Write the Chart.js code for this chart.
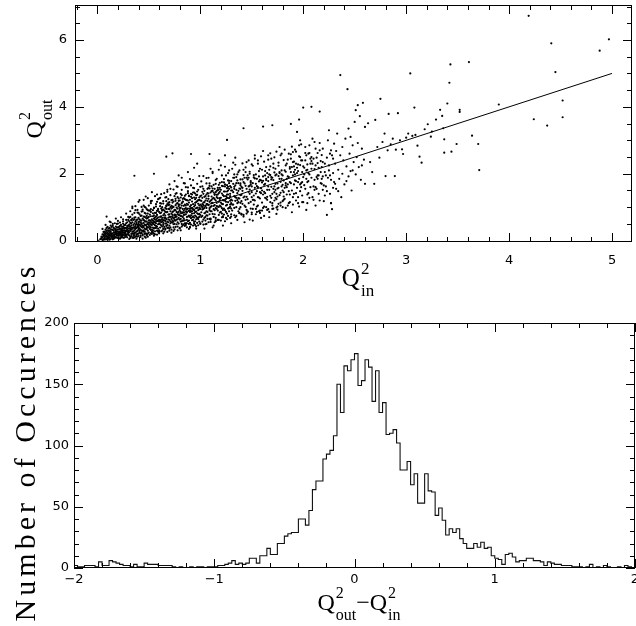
<!DOCTYPE html>
<html>
<head>
<meta charset="utf-8">
<script src="https://cdn.jsdelivr.net/npm/chart.js@4.4.0/dist/chart.umd.min.js"></script>
<style>
  html, body { margin: 0; padding: 0; background: #fff; }
  #wrap { position: relative; width: 636px; height: 626px; }
  #wrap canvas { position: absolute; left: 0; top: 0; }
</style>
</head>
<body>
<div id="wrap">
  <canvas id="scatterPlot" width="636" height="626"></canvas>
  <canvas id="diffHist" width="636" height="626"></canvas>
</div>
<script>
// scatter points as (Q2in, Q2out) pairs
const cloudLow = [
  0.03,0.05, 0.04,0.12, 0.05,0.02, 0.06,0.18, 0.07,0.09, 0.08,0.25, 0.08,0.04, 0.09,0.14, 0.10,0.31, 0.10,0.07,
  0.11,0.20, 0.11,0.11, 0.12,0.38, 0.12,0.03, 0.13,0.16, 0.13,0.27, 0.14,0.09, 0.14,0.22, 0.15,0.44, 0.15,0.13,
  0.16,0.06, 0.16,0.30, 0.17,0.19, 0.17,0.35, 0.18,0.11, 0.18,0.26, 0.19,0.50, 0.19,0.16, 0.20,0.08, 0.20,0.33,
  0.20,0.21, 0.21,0.41, 0.21,0.14, 0.22,0.28, 0.22,0.06, 0.23,0.19, 0.23,0.47, 0.24,0.35, 0.24,0.12, 0.25,0.24,
  0.25,0.58, 0.25,0.17, 0.26,0.39, 0.26,0.09, 0.27,0.30, 0.27,0.21, 0.28,0.52, 0.28,0.14, 0.29,0.27, 0.29,0.44,
  0.30,0.18, 0.30,0.36, 0.30,0.62, 0.06,0.26, 0.09,0.22, 0.13,0.05, 0.14,0.33, 0.17,0.08, 0.18,0.42, 0.21,0.25,
  0.22,0.54, 0.24,0.20, 0.26,0.31, 0.27,0.11, 0.28,0.37, 0.29,0.19, 0.12,0.24, 0.16,0.17, 0.19,0.28, 0.23,0.09,
  0.25,0.42, 0.07,0.15, 0.11,0.29, 0.15,0.21, 0.20,0.15, 0.24,0.28, 0.27,0.47, 0.29,0.10, 0.04,0.08, 0.10,0.18,
  0.18,0.34, 0.22,0.37, 0.26,0.23, 0.09,0.72, 0.12,0.57, 0.36,1.94, 0.55,2.00,
  0.31,0.25, 0.31,0.48, 0.32,0.12, 0.32,0.71, 0.33,0.33, 0.33,0.20, 0.34,0.55, 0.34,0.09, 0.35,0.40, 0.35,0.28,
  0.36,0.83, 0.36,0.17, 0.37,0.47, 0.37,0.35, 0.38,0.62, 0.38,0.14, 0.39,0.29, 0.39,0.92, 0.40,0.44, 0.40,0.21,
  0.41,0.57, 0.41,0.36, 0.42,0.74, 0.42,0.11, 0.43,0.50, 0.43,0.30, 0.44,0.66, 0.44,0.19, 0.45,1.05, 0.45,0.41,
  0.46,0.27, 0.46,0.59, 0.47,0.46, 0.47,0.81, 0.48,0.16, 0.48,0.35, 0.49,0.68, 0.49,0.52, 0.50,0.24, 0.50,0.90,
  0.51,0.43, 0.51,0.61, 0.52,0.32, 0.52,1.18, 0.53,0.55, 0.53,0.20, 0.54,0.73, 0.54,0.39, 0.55,0.49, 0.55,0.97,
  0.56,0.28, 0.56,0.64, 0.57,0.44, 0.57,0.83, 0.58,0.58, 0.58,0.18, 0.59,0.36, 0.59,0.70, 0.60,0.51, 0.60,1.26,
  0.31,0.37, 0.33,0.62, 0.35,0.14, 0.36,0.52, 0.38,0.38, 0.40,0.68, 0.41,0.24, 0.43,0.41, 0.44,0.88, 0.46,0.36,
  0.47,0.22, 0.48,0.57, 0.50,0.40, 0.51,0.78, 0.53,0.33, 0.54,0.60, 0.56,0.46, 0.57,1.09, 0.59,0.27, 0.60,0.63,
  0.32,0.42, 0.34,0.27, 0.37,0.70, 0.39,0.47, 0.42,0.33, 0.45,0.53, 0.49,0.30, 0.52,0.48, 0.55,0.66, 0.58,0.42,
  0.34,1.02, 0.41,1.21, 0.47,1.32, 0.53,1.45, 0.58,1.38, 0.44,0.06, 0.49,0.12, 0.55,0.15, 0.38,0.50, 0.46,0.71,
  0.52,0.86, 0.56,0.55, 0.43,0.60, 0.37,0.24, 0.54,0.25, 0.59,0.92, 0.50,0.55, 0.45,0.31, 0.40,0.56, 0.36,0.64,
  0.33,0.46, 0.57,0.62, 0.48,0.94, 0.42,0.46
];

const cloudMid = [
  0.61,0.39, 0.61,0.82, 0.62,0.55, 0.62,1.11, 0.63,0.30, 0.63,0.68, 0.64,0.47, 0.64,0.93, 0.65,0.61, 0.65,1.42,
  0.66,0.36, 0.66,0.75, 0.67,0.52, 0.67,1.03, 0.68,0.26, 0.68,0.86, 0.69,0.64, 0.69,1.24, 0.70,0.45, 0.70,0.79,
  0.71,0.58, 0.71,1.55, 0.72,0.33, 0.72,0.96, 0.73,0.70, 0.73,1.14, 0.74,0.49, 0.74,0.88, 0.75,0.62, 0.75,1.33,
  0.76,0.41, 0.76,0.77, 0.77,0.99, 0.77,1.62, 0.78,0.55, 0.78,0.83, 0.79,0.68, 0.79,1.19, 0.80,0.37, 0.80,0.91,
  0.81,0.74, 0.81,1.40, 0.82,0.58, 0.82,1.05, 0.83,0.46, 0.83,0.85, 0.84,0.66, 0.84,1.27, 0.85,0.95, 0.85,1.71,
  0.86,0.52, 0.86,0.79, 0.87,1.10, 0.87,0.40, 0.88,0.72, 0.88,1.48, 0.89,0.89, 0.89,0.60, 0.90,1.02, 0.90,1.84,
  0.91,0.67, 0.91,0.48, 0.92,1.17, 0.92,0.81, 0.93,0.94, 0.93,1.58, 0.94,0.56, 0.94,1.29, 0.95,0.75, 0.95,1.06,
  0.96,0.43, 0.96,0.87, 0.97,1.37, 0.97,0.99, 0.98,0.64, 0.98,1.21, 0.99,0.80, 0.99,1.93, 1.00,0.52, 1.00,1.08,
  0.62,0.73, 0.64,0.35, 0.66,0.98, 0.68,0.57, 0.70,1.15, 0.72,0.65, 0.74,0.29, 0.76,1.06, 0.78,1.30, 0.80,0.63,
  0.82,0.82, 0.84,0.49, 0.86,1.22, 0.88,0.96, 0.90,0.71, 0.92,0.61, 0.94,1.02, 0.96,1.15, 0.98,0.91, 1.00,0.77,
  0.63,0.90, 0.67,0.44, 0.71,0.88, 0.75,0.92, 0.79,0.51, 0.83,1.16, 0.87,0.84, 0.91,1.31, 0.95,0.58, 0.99,1.05,
  0.65,0.80, 0.69,0.39, 0.73,0.54, 0.77,0.72, 0.81,0.98, 0.85,0.61, 0.89,1.14, 0.93,0.73, 0.97,0.68, 0.61,1.28,
  0.68,1.52, 0.75,1.78, 0.82,1.88, 0.88,2.05, 0.94,2.18, 0.97,2.30, 0.70,1.68, 0.79,1.95, 0.86,1.60, 0.64,0.22,
  0.72,0.24, 0.81,0.31, 0.89,0.35, 0.96,0.36, 0.76,0.60, 0.84,0.90, 0.92,0.98, 0.67,0.85, 0.74,1.01, 0.83,0.71,
  0.91,0.87, 0.99,1.22, 0.78,1.12, 0.85,1.34, 0.93,1.44, 0.62,0.96, 0.69,1.06, 0.73,0.86, 0.80,1.20, 0.87,0.62,
  0.95,1.24, 0.66,0.59, 0.71,0.71, 0.77,0.86, 0.84,1.04, 0.90,0.53, 0.96,0.72, 0.67,2.51, 0.73,2.61, 0.91,2.59,
  1.01,0.71, 1.01,1.35, 1.02,0.93, 1.02,1.62, 1.03,0.48, 1.03,1.14, 1.04,0.82, 1.04,1.49, 1.05,1.03, 1.05,0.60,
  1.06,1.26, 1.06,1.87, 1.07,0.75, 1.07,1.09, 1.08,1.41, 1.08,0.55, 1.09,0.97, 1.09,1.71, 1.10,1.19, 1.10,0.66,
  1.11,1.32, 1.11,0.88, 1.12,1.56, 1.12,2.02, 1.13,1.04, 1.13,0.45, 1.14,1.24, 1.14,0.79, 1.15,1.45, 1.15,1.81,
  1.16,0.95, 1.16,1.13, 1.17,0.62, 1.17,1.38, 1.18,1.67, 1.18,1.01, 1.19,0.84, 1.19,1.27, 1.20,1.52, 1.20,2.25,
  1.21,0.70, 1.21,1.10, 1.22,1.36, 1.22,0.92, 1.23,1.74, 1.23,1.20, 1.24,0.58, 1.24,1.47, 1.25,1.05, 1.25,1.95,
  1.26,1.29, 1.26,0.81, 1.27,1.61, 1.27,1.15, 1.28,0.98, 1.28,2.10, 1.29,1.40, 1.29,0.68, 1.30,1.23, 1.30,1.78,
  1.31,0.90, 1.31,1.50, 1.32,1.08, 1.32,2.33, 1.33,1.33, 1.33,0.76, 1.34,1.65, 1.34,1.19, 1.35,1.00, 1.35,1.90,
  1.36,1.42, 1.36,0.62, 1.37,1.27, 1.37,2.05, 1.38,0.95, 1.38,1.56, 1.39,1.13, 1.39,1.83, 1.40,0.80, 1.40,1.37,
  1.03,0.95, 1.07,1.55, 1.11,1.12, 1.15,0.68, 1.19,1.58, 1.23,0.96, 1.27,1.38, 1.31,1.20, 1.35,1.52, 1.39,1.00,
  1.05,1.20, 1.09,0.79, 1.13,1.28, 1.17,1.02, 1.21,1.64, 1.25,1.33, 1.29,1.08, 1.33,1.55, 1.37,0.88, 1.02,1.09,
  1.08,1.25, 1.14,1.37, 1.20,0.86, 1.26,1.47, 1.32,1.70, 1.38,1.26, 1.04,0.36, 1.12,0.40, 1.22,0.45, 1.30,0.52,
  1.10,2.15, 1.18,2.40, 1.24,2.55, 1.34,2.48, 1.06,0.88, 1.16,1.49, 1.28,1.72, 1.36,1.12, 1.40,1.61, 1.09,2.59,
  1.26,3.01
];

// more of the dense core below Q2in = 1.3
const cloudCore = [
  0.05,0.10, 0.06,0.03, 0.07,0.21, 0.08,0.13, 0.09,0.05, 0.10,0.24, 0.11,0.16, 0.12,0.09, 0.13,0.34, 0.14,0.18,
  0.15,0.07, 0.16,0.25, 0.17,0.13, 0.18,0.31, 0.19,0.09, 0.20,0.27, 0.21,0.19, 0.22,0.44, 0.23,0.14, 0.24,0.31,
  0.25,0.09, 0.26,0.36, 0.27,0.25, 0.28,0.18, 0.29,0.40, 0.30,0.28, 0.31,0.16, 0.32,0.53, 0.33,0.39, 0.34,0.22,
  0.35,0.47, 0.36,0.31, 0.37,0.58, 0.38,0.27, 0.39,0.41, 0.40,0.33, 0.41,0.64, 0.42,0.22, 0.43,0.52, 0.44,0.39,
  0.45,0.27, 0.46,0.48, 0.47,0.69, 0.48,0.41, 0.49,0.21, 0.50,0.61, 0.51,0.35, 0.52,0.73, 0.53,0.47, 0.54,0.30,
  0.55,0.58, 0.56,0.83, 0.57,0.38, 0.58,0.67, 0.59,0.49, 0.60,0.31, 0.61,0.71, 0.62,0.46, 0.63,1.00, 0.64,0.60,
  0.65,0.41, 0.66,0.86, 0.67,0.64, 0.68,0.47, 0.69,0.95, 0.70,0.62, 0.71,0.40, 0.72,0.81, 0.73,0.60, 0.74,1.17,
  0.75,0.50, 0.76,0.91, 0.77,0.63, 0.78,0.42, 0.79,0.86, 0.80,1.08, 0.81,0.57, 0.82,0.73, 0.83,1.25, 0.84,0.77,
  0.85,0.52, 0.86,0.97, 0.87,0.71, 0.88,1.20, 0.89,0.50, 0.90,0.86, 0.91,1.06, 0.92,0.70, 0.93,0.45, 0.94,0.91,
  0.95,1.41, 0.96,0.64, 0.97,0.82, 0.98,1.10, 0.99,0.57, 1.00,0.95, 1.01,1.19, 1.02,0.74, 1.03,1.40, 1.04,0.98,
  1.05,0.71, 1.06,1.09, 1.07,0.86, 1.08,1.58, 1.09,0.65, 1.10,1.01, 1.11,1.22, 1.12,0.80, 1.13,1.44, 1.14,1.06,
  1.15,0.58, 1.16,1.30, 1.17,0.90, 1.18,1.16, 1.19,1.73, 1.20,1.02, 1.21,0.81, 1.22,1.21, 1.23,1.47, 1.24,0.91,
  1.25,1.16, 1.26,1.66, 1.27,0.74, 1.28,1.27, 1.29,1.01, 1.30,1.50,
  0.05,0.19, 0.07,0.04, 0.09,0.29, 0.11,0.06, 0.13,0.21, 0.15,0.32, 0.17,0.24, 0.19,0.39, 0.21,0.08, 0.23,0.32,
  0.25,0.30, 0.27,0.16, 0.29,0.55, 0.31,0.43, 0.33,0.14, 0.35,0.62, 0.37,0.42, 0.39,0.20, 0.41,0.47, 0.43,0.75,
  0.45,0.62, 0.47,0.34, 0.49,0.81, 0.51,0.54, 0.53,0.26, 0.55,0.76, 0.57,0.52, 0.59,0.95, 0.61,0.59, 0.63,0.42,
  0.65,0.69, 0.67,1.18, 0.69,0.78, 0.71,0.52, 0.73,0.99, 0.75,0.78, 0.77,0.49, 0.79,1.03, 0.81,0.86, 0.83,0.60,
  0.85,1.08, 0.87,0.93, 0.89,1.35, 0.91,0.76, 0.93,1.09, 0.95,0.86, 0.97,0.53, 0.99,0.94, 1.01,0.85, 1.03,0.63,
  1.05,1.33, 1.07,1.19, 1.09,0.91, 1.11,1.62, 1.13,0.94, 1.15,1.20, 1.17,1.51, 1.19,1.05, 1.21,1.41, 1.23,0.78,
  1.25,1.25, 1.27,1.50, 1.29,1.19, 0.06,0.14, 0.08,0.19, 0.10,0.11, 0.12,0.30, 0.14,0.13, 0.16,0.38, 0.18,0.20,
  0.20,0.40, 0.22,0.23, 0.24,0.16, 0.26,0.47, 0.28,0.29, 0.30,0.45, 0.32,0.29, 0.34,0.38, 0.36,0.23, 0.38,0.55,
  0.40,0.50, 0.42,0.61, 0.44,0.29, 0.46,0.83, 0.48,0.66, 0.50,0.47, 0.52,0.59, 0.54,0.91, 0.56,0.38, 0.58,0.77,
  0.60,0.86, 0.62,0.63, 0.64,0.76, 0.66,0.51, 0.68,1.09, 0.70,0.94, 0.72,0.55, 0.74,0.67, 0.76,1.25, 0.78,0.96,
  0.80,0.76, 0.82,1.12, 0.84,0.60, 0.86,0.88, 0.88,1.07, 0.90,1.22, 0.92,0.88, 0.94,0.69, 0.96,1.28, 0.98,0.79,
  1.00,1.33, 1.02,0.99, 1.04,1.15, 1.06,0.76, 1.08,1.06, 1.10,1.44, 1.12,1.13, 1.14,0.91, 1.16,1.37, 1.18,0.77,
  1.20,1.28, 1.22,1.09, 1.24,1.62, 1.26,1.07, 1.28,0.88, 1.30,1.12,
  0.08,0.33, 0.10,0.02, 0.12,0.17, 0.14,0.41, 0.16,0.10, 0.18,0.23, 0.20,0.51, 0.22,0.17, 0.24,0.41, 0.26,0.17,
  0.28,0.62, 0.30,0.23, 0.32,0.35, 0.34,0.66, 0.36,0.40, 0.38,0.19, 0.40,0.38, 0.42,0.54, 0.44,0.45, 0.46,0.20,
  0.48,0.48, 0.50,0.71, 0.52,0.40, 0.54,0.52, 0.56,0.70, 0.58,0.30, 0.60,0.57, 0.62,0.84, 0.64,0.53, 0.66,0.68,
  0.68,0.38, 0.70,0.72, 0.72,1.04, 0.74,0.57, 0.76,0.71, 0.78,0.64, 0.80,0.98, 0.82,0.50, 0.84,0.84, 0.86,1.05,
  0.88,0.58, 0.90,0.95, 0.92,1.38, 0.94,0.82, 0.96,0.97, 0.98,0.68, 1.00,1.20, 1.02,1.28, 1.04,0.68, 1.06,0.98,
  1.08,1.33, 1.10,0.88, 1.12,1.26, 1.14,1.55, 1.16,1.03, 1.18,1.42, 1.20,1.14, 1.22,0.70, 1.24,1.20, 1.26,1.38,
  1.28,1.55, 1.30,0.96, 0.07,0.27, 0.11,0.36, 0.15,0.04, 0.19,0.22, 0.23,0.25, 0.27,0.38, 0.31,0.58, 0.35,0.20,
  0.39,0.63, 0.43,0.23, 0.47,0.57, 0.51,0.90, 0.55,0.36, 0.59,0.61, 0.63,0.58, 0.67,0.95, 0.71,1.00, 0.75,0.69,
  0.79,0.77, 0.83,0.95, 0.87,0.52, 0.91,0.97, 0.95,1.13, 0.99,0.71, 1.03,1.06, 1.07,0.65, 1.11,1.03, 1.15,0.97,
  1.19,1.21, 1.23,1.33, 1.27,0.96, 0.09,0.38, 0.13,0.45, 0.17,0.52, 0.21,0.34, 0.25,0.51, 0.29,0.33, 0.33,0.52,
  0.37,0.12, 0.41,0.29, 0.45,0.72, 0.49,0.40, 0.53,0.64, 0.57,0.73, 0.61,0.49, 0.65,0.90, 0.69,0.55, 0.73,0.77,
  0.77,1.11, 0.81,0.65, 0.85,0.78, 0.89,0.75, 0.93,0.62, 0.97,1.18, 1.01,1.04, 1.05,0.84, 1.09,1.16, 1.13,0.71,
  1.17,1.27, 1.21,0.97, 1.25,0.86, 1.29,1.33
];

// the wide upper and lower fringes of the cloud
const cloudWide = [
  0.30,0.71, 0.31,0.05, 0.32,0.88, 0.33,0.61, 0.34,0.97, 0.35,0.08, 0.36,0.69, 0.37,1.03, 0.38,0.06, 0.39,0.84,
  0.40,1.16, 0.41,0.79, 0.42,0.15, 0.43,1.01, 0.44,0.93, 0.45,1.22, 0.46,0.12, 0.47,0.99, 0.48,0.74, 0.49,1.27,
  0.50,1.05, 0.51,0.17, 0.52,0.94, 0.53,1.19, 0.54,0.82, 0.55,0.21, 0.56,1.33, 0.57,1.02, 0.58,0.89, 0.59,1.24,
  0.60,0.22, 0.61,1.12, 0.62,1.39, 0.63,0.92, 0.64,1.18, 0.65,0.27, 0.66,1.29, 0.67,1.05, 0.68,1.46, 0.69,1.13,
  0.70,0.30, 0.71,1.36, 0.72,1.21, 0.73,1.02, 0.74,1.53, 0.75,0.34, 0.76,1.19, 0.77,1.42, 0.78,1.61, 0.79,1.08,
  0.80,0.38, 0.81,1.29, 0.82,1.52, 0.83,1.17, 0.84,1.72, 0.85,0.44, 0.86,1.38, 0.87,1.21, 0.88,1.59, 0.89,1.33,
  0.90,0.41, 0.91,1.65, 0.92,1.27, 0.93,1.81, 0.94,1.44, 0.95,0.47, 0.96,1.36, 0.97,1.70, 0.98,1.52, 0.99,1.29,
  1.00,0.50, 1.01,1.77, 1.02,1.46, 1.03,1.93, 1.04,1.31, 1.05,0.49, 1.06,1.71, 1.07,1.42, 1.08,1.88, 1.09,1.56,
  1.10,0.56, 1.11,1.48, 1.12,2.06, 1.13,1.67, 1.14,1.39, 1.15,0.61, 1.16,1.85, 1.17,1.58, 1.18,2.12, 1.19,1.46,
  1.20,0.60, 1.21,1.95, 1.22,1.63, 1.23,1.84, 1.24,2.21, 1.25,0.68, 1.26,1.57, 1.27,2.02, 1.28,1.79, 1.29,1.63,
  1.30,0.72, 1.31,2.15, 1.32,1.88, 1.33,1.61, 1.34,2.27, 1.35,0.74, 1.36,1.98, 1.37,1.72, 1.38,2.10, 1.39,1.55,
  1.40,0.78, 1.41,2.31, 1.42,1.96, 1.43,1.71, 1.44,2.19, 1.45,0.81, 1.46,1.83, 1.47,2.40, 1.48,2.06, 1.49,1.74,
  1.50,0.84, 1.51,2.24, 1.52,1.89, 1.53,2.45, 1.54,1.98, 1.55,0.86, 1.56,2.30, 1.57,1.77, 1.58,2.15, 1.59,2.52,
  1.60,0.90, 1.61,1.92, 1.62,2.36, 1.63,2.08, 1.64,1.81, 1.65,0.92, 1.66,2.42, 1.67,2.12, 1.68,2.61, 1.69,1.90,
  1.70,0.95, 1.71,2.18, 1.72,2.49, 1.73,1.95, 1.74,2.66, 1.75,1.02, 1.76,2.24, 1.77,2.02, 1.78,2.55, 1.79,1.98,
  1.80,1.00, 1.81,2.41, 1.82,2.72, 1.83,2.06, 1.84,2.30, 1.85,1.05, 1.86,2.60, 1.87,2.15, 1.88,2.45, 1.89,2.81,
  1.90,1.08, 1.91,2.36, 1.92,2.12, 1.93,2.66, 1.94,2.02, 1.95,1.12, 1.96,2.52, 1.97,2.26, 1.98,2.88, 1.99,2.40,
  2.00,1.15, 2.02,2.62, 2.04,2.28, 2.06,2.85, 2.08,2.50, 2.10,1.22, 2.12,2.75, 2.14,2.32, 2.16,2.92, 2.18,2.56,
  0.05,0.35, 0.08,0.47, 0.10,0.41, 0.13,0.55, 0.15,0.50, 0.18,0.66, 0.20,0.59, 0.23,0.70, 0.25,0.64, 0.28,0.81,
  0.31,0.69, 0.34,0.78, 0.37,0.91, 0.40,0.83, 0.43,0.87, 0.46,1.01, 0.49,0.91, 0.52,1.12, 0.55,0.99, 0.58,1.16,
  0.61,1.03, 0.64,1.11, 0.67,1.30, 0.70,1.08, 0.73,1.22, 0.76,1.40, 0.79,1.26, 0.82,1.36, 0.85,1.24, 0.88,1.42,
  0.91,1.40, 0.94,1.57, 0.97,1.47, 1.00,1.61, 1.03,1.55, 1.06,1.38, 1.09,1.64, 1.12,1.49, 1.15,1.70, 1.18,1.53,
  1.21,1.75, 1.24,1.68, 1.27,1.80, 1.30,1.59, 1.33,1.98, 1.36,1.80, 1.39,1.71, 1.42,2.12, 1.45,1.88, 1.48,2.00,
  0.62,0.28, 0.66,0.33, 0.70,0.36, 0.74,0.40, 0.78,0.31, 0.82,0.42, 0.86,0.47, 0.90,0.39, 0.94,0.51, 0.98,0.46,
  1.02,0.57, 1.06,0.50, 1.10,0.63, 1.14,0.55, 1.18,0.62, 1.22,0.73, 1.26,0.64, 1.30,0.79, 1.34,0.70, 1.38,0.82,
  1.42,0.77, 1.46,0.86, 1.50,0.79, 1.54,0.95, 1.58,0.83, 1.62,1.02, 1.66,0.94, 1.70,1.05, 1.74,0.99, 1.78,1.14,
  0.32,0.08, 0.36,0.10, 0.40,0.14, 0.44,0.16, 0.48,0.20, 0.52,0.22, 0.56,0.19, 0.60,0.26, 0.47,0.09, 0.39,0.12
];

const cloudHigh = [
  1.41,1.10, 1.42,1.75, 1.42,0.72, 1.43,1.32, 1.44,2.05, 1.44,1.01, 1.45,1.55, 1.46,0.88, 1.46,1.24, 1.47,1.88,
  1.48,1.40, 1.48,0.63, 1.49,1.16, 1.50,2.28, 1.50,1.62, 1.51,0.95, 1.52,1.35, 1.52,1.96, 1.53,1.20, 1.54,0.79,
  1.54,1.70, 1.55,1.48, 1.56,2.40, 1.56,1.05, 1.57,1.29, 1.58,1.82, 1.58,0.90, 1.59,1.57, 1.60,1.14, 1.60,2.12,
  1.61,1.38, 1.62,0.74, 1.62,1.67, 1.63,1.95, 1.64,1.26, 1.64,1.00, 1.65,1.52, 1.66,2.55, 1.66,1.78, 1.67,0.86,
  1.68,1.34, 1.68,2.22, 1.69,1.61, 1.70,1.12, 1.70,1.88, 1.71,0.96, 1.72,1.45, 1.72,2.04, 1.73,1.70, 1.74,1.24,
  1.74,0.80, 1.75,1.56, 1.76,2.33, 1.76,1.93, 1.77,1.36, 1.78,1.05, 1.78,1.76, 1.79,2.60, 1.80,1.50, 1.80,1.18,
  1.43,0.55, 1.51,0.60, 1.59,0.68, 1.67,0.70, 1.75,0.93, 1.45,2.35, 1.53,2.55, 1.61,2.68, 1.69,2.45, 1.77,2.80,
  1.47,1.46, 1.55,1.63, 1.63,1.42, 1.71,1.81, 1.79,1.62, 1.49,1.78, 1.57,1.92, 1.65,1.22, 1.73,2.15, 1.41,1.58,
  1.50,1.30, 1.58,1.45, 1.66,1.62, 1.74,1.40, 1.44,1.22, 1.52,1.08, 1.60,1.74, 1.68,1.96, 1.76,1.58, 1.48,1.64,
  1.56,1.30, 1.64,1.85, 1.72,1.20, 1.80,1.95, 1.42,3.36, 1.61,3.41, 1.70,3.45,
  1.81,1.32, 1.82,2.10, 1.83,1.65, 1.83,0.98, 1.84,1.85, 1.85,2.42, 1.86,1.48, 1.87,1.15, 1.87,2.20, 1.88,1.72,
  1.89,0.85, 1.90,1.95, 1.90,2.65, 1.91,1.40, 1.92,1.80, 1.93,2.30, 1.93,1.20, 1.94,1.58, 1.95,2.08, 1.96,2.85,
  1.96,1.02, 1.97,1.68, 1.98,2.40, 1.99,1.35, 2.00,1.90, 2.00,3.98, 2.01,2.18, 2.02,1.55, 2.03,0.92, 2.03,2.55,
  2.04,1.75, 2.05,2.02, 2.06,1.28, 2.07,2.30, 2.08,1.88, 2.09,3.05, 2.10,1.62, 2.11,2.14, 2.12,1.05, 2.13,2.48,
  2.14,1.95, 2.15,1.40, 2.16,2.70, 2.17,2.05, 2.18,1.70, 2.19,2.35, 2.20,1.18, 1.84,1.38, 1.88,2.58, 1.92,2.72,
  1.97,3.00, 2.02,2.80, 2.06,2.62, 2.11,2.95, 1.86,1.90, 1.91,2.22, 1.95,1.75, 1.99,2.05, 2.04,2.12, 2.08,2.38,
  2.14,1.85, 2.18,2.20, 1.82,1.58, 1.90,1.30, 1.98,1.60, 2.05,1.42, 2.12,1.60, 2.19,1.52, 1.94,3.25, 1.96,3.62,
  1.88,3.49, 2.08,4.00, 2.16,3.86, 1.81,1.22, 2.04,1.12
];

// more of the band between Q2in = 1.3 and 2.3
const cloudBand = [
  1.31,1.08, 1.32,1.45, 1.33,0.98, 1.34,1.30, 1.35,1.72, 1.36,1.21, 1.37,1.49, 1.38,0.83, 1.39,1.36, 1.40,1.18,
  1.41,1.83, 1.42,1.29, 1.43,1.05, 1.44,1.64, 1.45,1.31, 1.46,1.95, 1.47,1.12, 1.48,1.53, 1.49,0.96, 1.50,1.45,
  1.51,1.72, 1.52,1.22, 1.53,1.86, 1.54,1.41, 1.55,1.02, 1.56,1.60, 1.57,2.08, 1.58,1.26, 1.59,1.80, 1.60,1.50,
  1.61,0.98, 1.62,1.46, 1.63,1.70, 1.64,2.20, 1.65,1.31, 1.66,1.90, 1.67,1.52, 1.68,1.15, 1.69,1.83, 1.70,1.40,
  1.71,2.30, 1.72,1.62, 1.73,1.28, 1.74,1.98, 1.75,1.71, 1.76,1.10, 1.77,1.85, 1.78,1.43, 1.79,2.10, 1.80,1.67,
  1.81,1.80, 1.82,1.25, 1.83,2.25, 1.84,1.60, 1.85,1.92, 1.86,1.12, 1.87,1.75, 1.88,2.05, 1.89,1.50, 1.90,2.35,
  1.91,1.68, 1.92,1.98, 1.93,1.42, 1.94,2.18, 1.95,1.30, 1.96,1.85, 1.97,2.50, 1.98,1.72, 1.99,1.15, 2.00,2.22,
  2.01,1.66, 2.02,2.40, 2.03,1.85, 2.04,1.38, 2.05,2.60, 2.06,1.98, 2.07,1.60, 2.08,2.15, 2.09,1.30, 2.10,2.45,
  2.11,1.82, 2.12,2.25, 2.13,1.55, 2.14,2.62, 2.15,1.95, 2.16,1.20, 2.17,2.38, 2.18,1.85, 2.19,2.75, 2.20,1.65,
  1.33,1.88, 1.37,1.15, 1.41,1.49, 1.45,0.92, 1.49,1.68, 1.53,1.58, 1.57,0.88, 1.61,1.79, 1.65,2.02, 1.69,1.28,
  1.73,1.52, 1.77,2.05, 1.81,1.45, 1.85,1.68, 1.89,2.20, 1.93,1.78, 1.97,1.48, 2.01,1.98, 2.05,1.78, 2.09,2.30,
  2.13,1.90, 2.17,1.72, 2.21,2.30, 2.23,1.48, 2.25,2.10, 2.27,1.82, 2.29,2.45, 2.31,1.70, 2.22,1.95, 2.26,2.60,
  1.35,1.28, 1.39,1.66, 1.43,1.88, 1.47,1.62, 1.51,1.22, 1.55,1.85, 1.59,1.42, 1.63,1.28, 1.67,1.98, 1.71,1.55,
  1.75,1.32, 1.79,1.85, 1.83,1.72, 1.87,1.38, 1.91,2.05, 1.95,2.28, 1.99,1.75, 2.03,2.10, 2.07,2.45, 2.11,1.52,
  2.15,2.18, 2.19,1.92
];

const tailPoints = [
  2.21,2.05, 2.22,1.62, 2.23,0.77, 2.23,2.48, 2.24,1.88, 2.25,2.25, 2.26,1.40, 2.27,1.12, 2.27,2.70, 2.28,0.94,
  2.29,2.02, 2.30,1.75, 2.30,2.90, 2.31,2.30, 2.32,1.55, 2.33,3.20, 2.34,2.12, 2.35,1.85, 2.36,4.95, 2.36,2.55,
  2.37,1.30, 2.38,2.00, 2.39,2.40, 2.40,1.68, 2.41,3.05, 2.42,2.22, 2.43,4.53, 2.44,1.92, 2.45,2.60, 2.46,2.08,
  2.47,1.50, 2.48,2.85, 2.49,2.35, 2.50,3.55, 2.51,1.98, 2.51,3.90, 2.52,2.50, 2.53,4.05, 2.54,2.20, 2.55,3.72,
  2.56,1.82, 2.57,2.75, 2.58,4.12, 2.59,2.42, 2.60,3.40, 2.60,1.70, 2.24,3.00, 2.28,2.55, 2.32,2.68, 2.26,1.95,
  2.34,1.48, 2.38,2.80, 2.42,1.78, 2.46,3.10, 2.53,2.92, 2.21,1.35, 2.25,3.30, 2.29,1.58, 2.44,3.35, 2.48,2.10,
  2.57,2.25, 2.27,1.12,
  2.63,3.51, 2.65,2.35, 2.67,2.05, 2.69,1.70, 2.70,3.61, 2.72,2.80, 2.74,2.48, 2.75,4.24, 2.77,2.95, 2.79,3.20,
  2.80,1.93, 2.82,2.70, 2.83,3.79, 2.85,2.88, 2.87,3.05, 2.89,1.93, 2.90,2.72, 2.92,3.81, 2.94,3.00, 2.96,2.73,
  2.97,2.59, 3.00,3.08, 3.02,3.20, 3.04,5.00, 3.06,3.13, 3.08,3.98, 3.09,3.16, 3.11,2.84, 3.13,2.51, 3.15,2.33,
  3.18,3.33, 3.21,3.48, 3.24,3.11, 3.25,3.26, 3.29,3.62, 3.33,3.91, 3.35,3.73, 3.36,3.36, 3.37,3.03, 3.37,2.63,
  3.40,4.10, 3.42,4.72, 3.43,5.27, 3.44,2.66, 3.49,2.89, 3.52,3.91, 3.52,3.85, 3.61,5.34, 3.64,3.14, 3.70,2.89,
  3.71,2.11, 3.90,4.07, 4.19,6.72, 4.24,3.63, 4.37,3.44, 4.41,5.90, 4.45,5.04, 4.52,4.19, 4.52,3.69, 4.88,5.68,
  4.97,6.02
];

// the y = x line
const lineQIn = [0, 5];
const lineQOut = [0, 5];

// histogram of Q2out - Q2in: 160 bins of 0.025 from -2 to 2
const binLow = -2;
const binWidth = 0.025;
const diffCounts = [
  2, 1, 1, 2, 2, 2, 1, 5, 2, 2, 6, 5, 4, 3, 2, 2, 1, 3, 1, 1,
  4, 3, 3, 3, 2, 2, 2, 2, 1, 0, 1, 0, 0, 1, 0, 1, 1, 0, 1, 1,
  1, 2, 2, 3, 4, 6, 3, 4, 3, 4, 8, 8, 4, 10, 10, 16, 11, 11, 20, 20,
  26, 28, 29, 29, 40, 40, 35, 47, 64, 71, 71, 89, 93, 96, 108, 150, 127, 165, 161, 170,
  175, 149, 153, 170, 164, 136, 161, 127, 135, 109, 110, 113, 102, 80, 80, 87, 68, 77, 53, 53,
  77, 63, 62, 43, 49, 39, 27, 32, 29, 32, 24, 20, 16, 16, 20, 17, 21, 16, 17, 10,
  8, 7, 3, 11, 12, 9, 5, 6, 6, 8, 8, 6, 6, 5, 2, 5, 4, 3, 3, 2,
  2, 2, 1, 1, 1, 0, 1, 3, 0, 1, 0, 2, 1, 0, 0, 1, 0, 2, 1, 0
];

const scatterXTicks = [0, 1, 2, 3, 4, 5];
const scatterYTicks = [0, 2, 4, 6];
const histXTicks = [-2, -1, 0, 1, 2];
const histYTicks = [0, 50, 100, 150, 200];

function toPoints(flat) {
  const pts = [];
  for (let i = 0; i < flat.length; i += 2) {
    pts.push({ x: flat[i], y: flat[i + 1] });
  }
  return pts;
}

function fmt(v) {
  return v < 0 ? '\u2212' + Math.abs(v) : String(v);
}

const tickFont = { family: '"DejaVu Sans", sans-serif', size: 13 };
const serif = '"Liberation Serif", "DejaVu Serif", serif';

// box round the plot plus inward ticks on all four sides
const frameTicks = {
  id: 'frameTicks',
  afterDraw(chart, args, opts) {
    const { ctx, chartArea: a, scales: { x, y } } = chart;
    ctx.save();
    ctx.strokeStyle = '#000';
    ctx.lineWidth = 1;
    ctx.strokeRect(a.left + 0.5, a.top + 0.5, a.width - 1, a.height - 1);
    ctx.beginPath();
    const isMajor = (v, step) => Math.abs(v / step - Math.round(v / step)) < 1e-6;
    for (let i = Math.ceil(x.min / opts.xMinor - 1e-6); i * opts.xMinor <= x.max + 1e-6; i++) {
      const v = i * opts.xMinor;
      const len = isMajor(v, opts.xMajor) ? 9 : 5;
      const px = Math.round(x.getPixelForValue(v)) + 0.5;
      ctx.moveTo(px, a.bottom); ctx.lineTo(px, a.bottom - len);
      ctx.moveTo(px, a.top); ctx.lineTo(px, a.top + len);
    }
    for (let i = Math.ceil(y.min / opts.yMinor - 1e-6); i * opts.yMinor <= y.max + 1e-6; i++) {
      const v = i * opts.yMinor;
      const len = isMajor(v, opts.yMajor) ? 9 : 5;
      const py = Math.round(y.getPixelForValue(v)) + 0.5;
      ctx.moveTo(a.left, py); ctx.lineTo(a.left + len, py);
      ctx.moveTo(a.right, py); ctx.lineTo(a.right - len, py);
    }
    ctx.stroke();
    ctx.restore();
  }
};

// Q with a stacked superscript 2 and a subscript, pieces drawn left to right
function drawPieces(ctx, pieces, size) {
  const big = size + 'px ' + serif;
  const small = Math.round(size * 0.66) + 'px ' + serif;
  const widths = pieces.map(p => {
    if (p.sub !== undefined) {
      ctx.font = big;
      const wq = ctx.measureText('Q').width;
      ctx.font = small;
      return wq + 1 + Math.max(ctx.measureText('2').width, ctx.measureText(p.sub).width);
    }
    ctx.font = big;
    return ctx.measureText(p.text).width;
  });
  let x0 = -widths.reduce((s, w) => s + w, 0) / 2;
  pieces.forEach((p, i) => {
    if (p.sub !== undefined) {
      ctx.font = big;
      const wq = ctx.measureText('Q').width;
      ctx.fillText('Q', x0, 0);
      ctx.font = small;
      ctx.fillText('2', x0 + wq + 1, -size * 0.5);
      ctx.fillText(p.sub, x0 + wq + 1, size * 0.4);
    } else {
      ctx.font = big;
      ctx.fillText(p.text, x0, -size * 0.02);
    }
    x0 += widths[i];
  });
}

const axisTitles = {
  id: 'axisTitles',
  afterDraw(chart, args, opts) {
    const ctx = chart.ctx;
    ctx.save();
    ctx.fillStyle = '#000';
    ctx.textBaseline = 'alphabetic';
    ctx.textAlign = 'left';
    opts.items.forEach(item => {
      ctx.save();
      ctx.translate(item.x, item.y);
      if (item.rotate) ctx.rotate(-Math.PI / 2);
      if (item.pieces) {
        drawPieces(ctx, item.pieces, item.size);
      } else {
        ctx.font = item.size + 'px ' + serif;
        ctx.letterSpacing = '0px';
        const w = ctx.measureText(item.text).width;
        const gap = (item.length - w) / (item.text.length - 1);
        ctx.letterSpacing = gap + 'px';
        ctx.fillText(item.text, -item.length / 2, 0);
      }
      ctx.restore();
    });
    ctx.restore();
  }
};

function fixedScale(size, isX, tickList, padding) {
  return {
    type: 'linear',
    grid: { display: false, drawTicks: false },
    border: { display: false },
    ticks: {
      color: '#000',
      font: tickFont,
      padding: padding,
      autoSkip: false,
      maxRotation: 0,
      minRotation: 0,
      callback: v => fmt(v)
    },
    afterBuildTicks: s => { s.ticks = tickList.map(v => ({ value: v })); },
    afterFit: s => {
      if (isX) { s.height = size; } else { s.width = size; }
      s.paddingLeft = 0; s.paddingRight = 0; s.paddingTop = 0; s.paddingBottom = 0;
    }
  };
}

const scatterChart = new Chart(document.getElementById('scatterPlot'), {
  type: 'scatter',
  data: {
    datasets: [
      {
        label: 'events',
        data: toPoints(cloudLow.concat(cloudMid, cloudCore, cloudWide, cloudHigh, cloudBand, tailPoints)),
        pointRadius: 1.1,
        pointBorderWidth: 0,
        pointBackgroundColor: '#000'
      },
      {
        label: 'y = x',
        data: lineQIn.map((v, i) => ({ x: v, y: lineQOut[i] })),
        showLine: true,
        pointRadius: 0,
        borderColor: '#000',
        borderWidth: 1
      }
    ]
  },
  options: {
    responsive: false,
    animation: false,
    events: [],
    layout: { padding: { left: 0, right: 1, top: 5, bottom: 344 } },
    scales: {
      x: Object.assign(fixedScale(40, true, scatterXTicks, 11), { min: -0.217, max: 5.194 }),
      y: Object.assign(fixedScale(75, false, scatterYTicks, 8), { min: -0.04, max: 7.045 })
    },
    plugins: {
      legend: { display: false },
      tooltip: { enabled: false },
      frameTicks: { xMinor: 0.2, xMajor: 1, yMinor: 0.5, yMajor: 2 },
      axisTitles: {
        items: [
          { x: 42, y: 119, rotate: true, size: 24, pieces: [{ sub: 'out' }] },
          { x: 358, y: 286, rotate: false, size: 25, pieces: [{ sub: 'in' }] }
        ]
      }
    }
  },
  plugins: [frameTicks, axisTitles]
});

const histChart = new Chart(document.getElementById('diffHist'), {
  type: 'line',
  data: {
    datasets: [{
      label: 'Q2out - Q2in',
      data: diffCounts.map((c, i) => ({ x: binLow + i * binWidth, y: c }))
        .concat([{ x: binLow + diffCounts.length * binWidth, y: diffCounts[diffCounts.length - 1] }]),
      stepped: 'before',
      pointRadius: 0,
      borderColor: '#111',
      borderWidth: 1.1,
      fill: false
    }]
  },
  options: {
    responsive: false,
    animation: false,
    events: [],
    layout: { padding: { left: 0, right: 1, top: 323, bottom: 18 } },
    scales: {
      x: Object.assign(fixedScale(40, true, histXTicks, 4), { min: -2, max: 2 }),
      y: Object.assign(fixedScale(74, false, histYTicks, 5), { min: 0, max: 200 })
    },
    plugins: {
      legend: { display: false },
      tooltip: { enabled: false },
      frameTicks: { xMinor: 0.2, xMajor: 1, yMinor: 10, yMajor: 50 },
      axisTitles: {
        items: [
          { x: 35, y: 444, rotate: true, size: 30, text: 'Number of Occurences', length: 355 },
          { x: 359, y: 610, rotate: false, size: 24, pieces: [{ sub: 'out' }, { text: '\u2212' }, { sub: 'in' }] }
        ]
      }
    }
  },
  plugins: [frameTicks, axisTitles]
});
</script>
</body>
</html>
